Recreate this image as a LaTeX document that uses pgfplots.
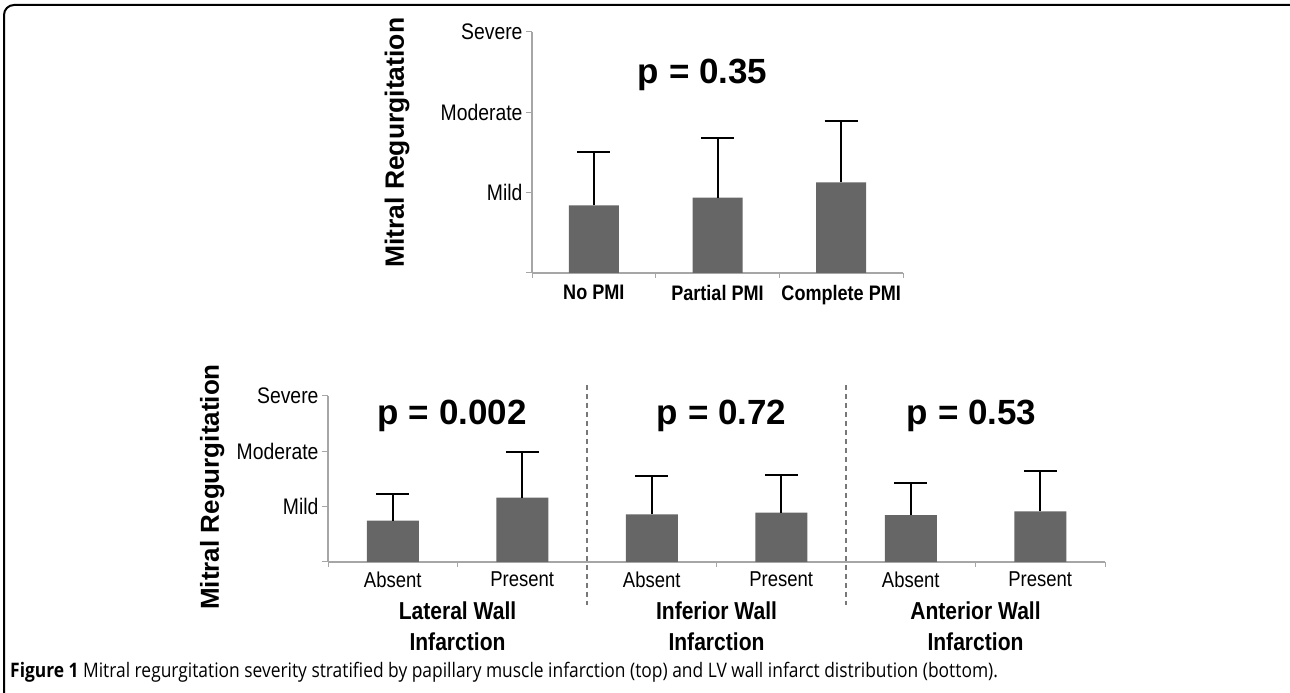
\documentclass[border=0pt]{standalone}
\usepackage{pgfplots}
\pgfplotsset{compat=1.18}
\usepackage{fontspec}
\setmainfont{Liberation Sans}
\newfontfamily\narrowfont{Liberation Sans}[FakeStretch=0.86]
\newfontfamily\capfont{Open Sans}[FakeStretch=0.87]
\definecolor{barfill}{RGB}{102,102,102}
\definecolor{axisgray}{RGB}{166,166,166}
\definecolor{dashgray}{RGB}{120,120,120}

\pgfplotsset{
  mrstyle/.style={
    scale only axis,
    ymin=0, ymax=3,
    axis x line*=bottom, axis y line*=left,
    axis line style={-, draw=axisgray, line width=1.2pt},
    ytick={0,1,2,3}, yticklabels={,Mild,Moderate,Severe},
    y tick label style={font=\narrowfont\fontsize{22.5}{24}\selectfont},
    major x tick style={draw=none},
    tick style={draw=axisgray, line width=1pt},
    tick align=outside,
    major tick length=6pt, minor tick length=5pt,
    ylabel={Mitral Regurgitation},
    clip=false,
  },
  barstyle/.style={
    ybar, fill=barfill, draw=none,
    error bars/.cd, y dir=plus, y explicit,
    error bar style={line width=2pt, black},
    error mark options={rotate=90, mark size=16.5pt, line width=2pt, black},
    /pgfplots/.cd,
  },
}
\newcommand{\grplab}{\narrowfont\bfseries\fontsize{24.5}{28}\selectfont}
\newcommand{\pfont}{\bfseries\fontsize{35}{40}\selectfont}

\begin{document}
\begin{tikzpicture}[x=1pt,y=1pt]
\useasboundingbox (0,0) rectangle (1290,693);
\draw[line width=2pt, rounded corners=10pt] (4,-2) -- (4,688) -- (1292,688);

% Top chart
\begin{axis}[mrstyle,
  at={(532pt,420pt)}, anchor=south west,
  width=371pt, height=241pt,
  xmin=-0.5, xmax=2.5,
  xtick={0,1,2}, xticklabels={No PMI, Partial PMI, Complete PMI},
  x tick label style={font=\narrowfont\bfseries\fontsize{21}{24}\selectfont, yshift=-3pt},
  minor xtick={-0.5,0.5,1.5,2.5},
  every axis y label/.style={at={(axis description cs:-0.364,0.54)}, rotate=90, anchor=center, font=\bfseries\fontsize{26.5}{28}\selectfont},
]
\addplot[bar width=50pt, barstyle] coordinates {
  (0,0.843) +- (0,0.667)
  (1,0.937) +- (0,0.740)
  (2,1.129) +- (0,0.759)
};
\node[font=\pfont, anchor=base] at (axis cs:0.88,2.365) {p = 0.35};
\end{axis}

% Bottom chart
\begin{axis}[mrstyle,
  at={(328pt,131pt)}, anchor=south west,
  width=777pt, height=166pt,
  xmin=-0.5, xmax=5.5,
  xtick={0,1,2,3,4,5}, xticklabels={Absent,Present,Absent,Present,Absent,Present},
  x tick label style={font=\narrowfont\fontsize{21.5}{24}\selectfont},
  minor xtick={-0.5,0.5,2.5,4.5,5.5},
  every axis y label/.style={at={(axis description cs:-0.149,0.452)}, rotate=90, anchor=center, font=\bfseries\fontsize{26}{28}\selectfont},
]
\addplot[bar width=52pt, barstyle] coordinates {
  (0,0.747) +- (0,0.488)
  (1,1.163) +- (0,0.819)
  (2,0.861) +- (0,0.693)
  (3,0.892) +- (0,0.680)
  (4,0.849) +- (0,0.573)
  (5,0.916) +- (0,0.734)
};
\draw[dashgray, line width=1.2pt, dash pattern=on 5pt off 4pt] (axis cs:1.5,3.2) -- (axis cs:1.5,-0.78);
\draw[dashgray, line width=1.2pt, dash pattern=on 5pt off 4pt] (axis cs:3.5,3.2) -- (axis cs:3.5,-0.78);
\node[font=\pfont, anchor=base] at (axis cs:0.46,2.476) {p = 0.002};
\node[font=\pfont, anchor=base] at (axis cs:2.54,2.476) {p = 0.72};
\node[font=\pfont, anchor=base] at (axis cs:4.47,2.476) {p = 0.53};
\node[font=\grplab, anchor=base] at (axis cs:0.5,-1.048) {Lateral Wall};
\node[font=\grplab, anchor=base] at (axis cs:0.5,-1.608) {Infarction};
\node[font=\grplab, anchor=base] at (axis cs:2.5,-1.048) {Inferior Wall};
\node[font=\grplab, anchor=base] at (axis cs:2.5,-1.608) {Infarction};
\node[font=\grplab, anchor=base] at (axis cs:4.5,-1.048) {Anterior Wall};
\node[font=\grplab, anchor=base] at (axis cs:4.5,-1.608) {Infarction};
\end{axis}

\node[anchor=base west, font=\capfont\fontsize{20}{22}\selectfont, inner sep=0pt] at (10,15)
  {\textbf{Figure 1} Mitral regurgitation severity stratified by papillary muscle infarction (top) and LV wall infarct distribution (bottom).};
\end{tikzpicture}
\end{document}
